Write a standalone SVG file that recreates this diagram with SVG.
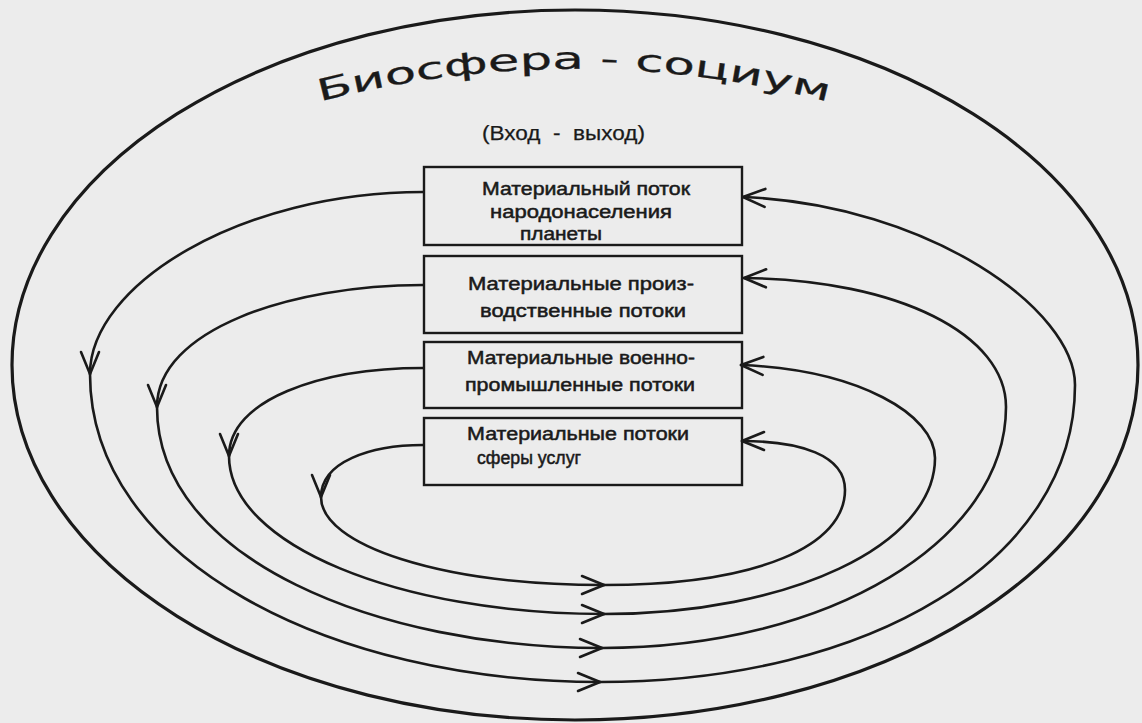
<svg xmlns="http://www.w3.org/2000/svg" width="1142" height="723" viewBox="0 0 1142 723">
  <style>
    .bg { fill: #ececec; }
    .line { fill: none; stroke: #1a1a1a; stroke-width: 2.6; stroke-linecap: round; stroke-linejoin: round; }
    .outer { fill: none; stroke: #1a1a1a; stroke-width: 3.2; }
    .box { fill: none; stroke: #1a1a1a; stroke-width: 2.4; }
    .t { font-family: "Liberation Sans", Arial, sans-serif; font-size: 18px; fill: #1a1a1a; stroke: #1a1a1a; stroke-width: 0.5; }
    .title { font-family: "DejaVu Sans", "Liberation Sans", sans-serif; font-size: 30px; fill: #1a1a1a; stroke: #1a1a1a; stroke-width: 0.3; }
    .io { font-family: "Liberation Sans", Arial, sans-serif; font-size: 20px; fill: #1a1a1a; stroke: #1a1a1a; stroke-width: 0.25; }
  </style>
  <defs>
    <marker id="arr" viewBox="-26 -12 28 24" refX="0" refY="0" markerWidth="28" markerHeight="24" markerUnits="userSpaceOnUse" orient="auto" overflow="visible">
      <path d="M -22 -9 L 0 0 L -22 9" fill="none" stroke="#1a1a1a" stroke-width="2.6" stroke-linecap="round" stroke-linejoin="round"/>
    </marker>
    <path id="titleArc" d="M 290 110 A 1000 1000 0 0 1 858 110"/>
  </defs>

  <rect class="bg" x="0" y="0" width="1142" height="723"/>

  <g id="biosphere">
    <ellipse class="outer" cx="575" cy="365" rx="563" ry="355"/>
    <text class="title"><textPath href="#titleArc" startOffset="50%" text-anchor="middle" textLength="514" lengthAdjust="spacingAndGlyphs">Биосфера - социум</textPath></text>
  </g>

  <g id="io-label">
    <text class="io" x="482" y="140" textLength="163" lengthAdjust="spacingAndGlyphs" xml:space="preserve">(Вход  -  выход)</text>
  </g>

  <g id="connectors">
    <!-- loop 1 -->
    <path class="line" d="M 423 192 C 240 192 90 285 90 374" marker-end="url(#arr)"/>
    <path class="line" d="M 90 374 C 90 560 330 682 600 682" marker-end="url(#arr)"/>
    <path class="line" d="M 600 682 C 870 682 1075 560 1075 385 C 1075 310 930 205 743 197" marker-end="url(#arr)"/>
    <!-- loop 2 -->
    <path class="line" d="M 423 285 C 290 285 157 330 157 407" marker-end="url(#arr)"/>
    <path class="line" d="M 157 407 C 157 560 380 648 602 648" marker-end="url(#arr)"/>
    <path class="line" d="M 602 648 C 830 648 1006 540 1006 407 C 1006 335 900 280 744 278" marker-end="url(#arr)"/>
    <!-- loop 3 -->
    <path class="line" d="M 423 368 C 320 368 229 400 229 456" marker-end="url(#arr)"/>
    <path class="line" d="M 229 456 C 229 545 400 614 604 614" marker-end="url(#arr)"/>
    <path class="line" d="M 604 614 C 790 614 935 545 935 458 C 935 415 860 370 741 365" marker-end="url(#arr)"/>
    <!-- loop 4 -->
    <path class="line" d="M 423 445 C 370 445 321 462 321 497" marker-end="url(#arr)"/>
    <path class="line" d="M 321 497 C 321 545 440 585 604 585" marker-end="url(#arr)"/>
    <path class="line" d="M 604 585 C 760 585 845 545 845 490 C 845 455 800 441 742 441" marker-end="url(#arr)"/>
  </g>

  <g id="box1">
    <rect class="box" x="424" y="167" width="318" height="78"/>
    <text class="t" x="482" y="195" textLength="208" lengthAdjust="spacingAndGlyphs">Материальный поток</text>
    <text class="t" x="490" y="218" textLength="182" lengthAdjust="spacingAndGlyphs">народонаселения</text>
    <text class="t" x="520" y="240" textLength="82" lengthAdjust="spacingAndGlyphs">планеты</text>
  </g>

  <g id="box2">
    <rect class="box" x="424" y="256" width="318" height="77"/>
    <text class="t" x="468" y="290" textLength="226" lengthAdjust="spacingAndGlyphs">Материальные произ-</text>
    <text class="t" x="480" y="317" textLength="206" lengthAdjust="spacingAndGlyphs">водственные потоки</text>
  </g>

  <g id="box3">
    <rect class="box" x="424" y="342" width="318" height="66"/>
    <text class="t" x="467" y="364" textLength="228" lengthAdjust="spacingAndGlyphs">Материальные военно-</text>
    <text class="t" x="465" y="391" textLength="230" lengthAdjust="spacingAndGlyphs">промышленные потоки</text>
  </g>

  <g id="box4">
    <rect class="box" x="424" y="418" width="318" height="67"/>
    <text class="t" x="467" y="440" textLength="222" lengthAdjust="spacingAndGlyphs">Материальные потоки</text>
    <text class="t" x="477" y="464" textLength="104" lengthAdjust="spacingAndGlyphs">сферы услуг</text>
  </g>
</svg>
